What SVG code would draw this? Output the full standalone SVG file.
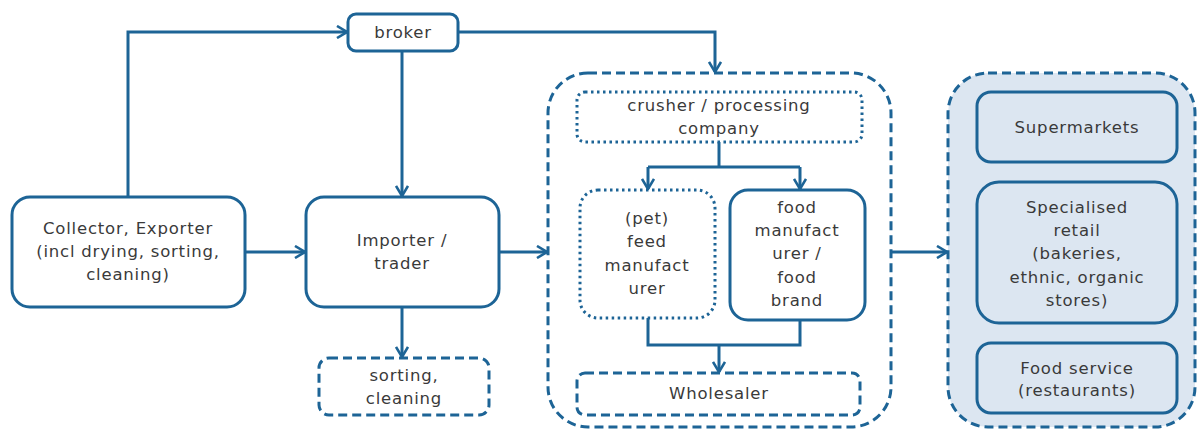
<svg xmlns="http://www.w3.org/2000/svg" width="1199" height="430" viewBox="0 0 1199 430">
<style>
.b{fill:#fff;stroke:#1d6496;stroke-width:3}
.dash{stroke-dasharray:9 5}
.dot{stroke-dasharray:2.5 3.5}
.bl{fill:#dce6f1}
.c{fill:none;stroke:#1d6496;stroke-width:3}
text{font-family:"DejaVu Sans",Verdana,sans-serif;font-size:16.5px;letter-spacing:0.8px;fill:#3a3a3a;text-anchor:middle}
</style>
<defs>
<marker id="ah" viewBox="0 0 12 14" refX="11" refY="7" markerWidth="12" markerHeight="14" markerUnits="userSpaceOnUse" orient="auto">
<path d="M1,1 L11,7 L1,13" fill="none" stroke="#1d6496" stroke-width="2.6"/>
</marker>
</defs>
<rect width="1199" height="430" fill="#fff"/>
<g id="processing-group"><rect class="b dash" x="548" y="73" width="343" height="354" rx="40"/></g>
<g id="retail-group"><rect class="b dash bl" x="948" y="73" width="247" height="354" rx="40"/></g>
<g id="broker"><rect class="b" x="348" y="14" width="110" height="37" rx="8"/><text x="403" y="38">broker</text></g>
<g id="collector"><rect class="b" x="12" y="197" width="233" height="110" rx="18"/>
<text x="128" y="234">Collector, Exporter</text><text x="128" y="257">(incl drying, sorting,</text><text x="128" y="280">cleaning)</text></g>
<g id="importer"><rect class="b" x="306" y="197" width="193" height="110" rx="18"/>
<text x="402" y="246">Importer /</text><text x="402" y="269">trader</text></g>
<g id="sorting"><rect class="b dash" x="319" y="358" width="170" height="57" rx="10"/>
<text x="404" y="381">sorting,</text><text x="404" y="404">cleaning</text></g>
<g id="crusher"><rect class="b dot" x="577" y="92" width="285" height="50" rx="8"/>
<text x="719" y="111">crusher / processing</text><text x="719" y="134">company</text></g>
<g id="feed"><rect class="b dot" x="580" y="190" width="135" height="128" rx="18"/>
<text x="647" y="224">(pet)</text><text x="647" y="247">feed</text><text x="647" y="271">manufact</text><text x="647" y="294">urer</text></g>
<g id="food"><rect class="b" x="730" y="190" width="135" height="130" rx="18"/>
<text x="797" y="213">food</text><text x="797" y="236">manufact</text><text x="797" y="259">urer /</text><text x="797" y="283">food</text><text x="797" y="306">brand</text></g>
<g id="wholesaler"><rect class="b dash" x="577" y="373" width="283" height="42" rx="8"/>
<text x="719" y="399">Wholesaler</text></g>
<g id="supermarkets"><rect class="b bl" x="977" y="92" width="200" height="70" rx="14"/>
<text x="1077" y="133">Supermarkets</text></g>
<g id="specialised"><rect class="b bl" x="977" y="182" width="200" height="141" rx="22"/>
<text x="1077" y="213">Specialised</text><text x="1077" y="236">retail</text><text x="1077" y="259">(bakeries,</text><text x="1077" y="283">ethnic, organic</text><text x="1077" y="306">stores)</text></g>
<g id="foodservice"><rect class="b bl" x="977" y="343" width="200" height="70" rx="14"/>
<text x="1077" y="374">Food service</text><text x="1077" y="396">(restaurants)</text></g>
<g id="connectors" class="c">
<path class="c" d="M128,197 V32 H347" marker-end="url(#ah)"/>
<path class="c" d="M458,32 H715 V72" marker-end="url(#ah)"/>
<path class="c" d="M402,51 V196" marker-end="url(#ah)"/>
<path class="c" d="M245,252 H305" marker-end="url(#ah)"/>
<path class="c" d="M499,252 H547" marker-end="url(#ah)"/>
<path class="c" d="M402,307 V357" marker-end="url(#ah)"/>
<path class="c" d="M719,142 V167"/>
<path class="c" d="M648,167 V189" marker-end="url(#ah)"/>
<path class="c" d="M800,167 V189" marker-end="url(#ah)"/>
<path class="c" d="M648,167 H800"/>
<path class="c" d="M648,318 V345 H800 V320"/>
<path class="c" d="M719,345 V372" marker-end="url(#ah)"/>
<path class="c" d="M891,252 H947" marker-end="url(#ah)"/>
</g>
</svg>
